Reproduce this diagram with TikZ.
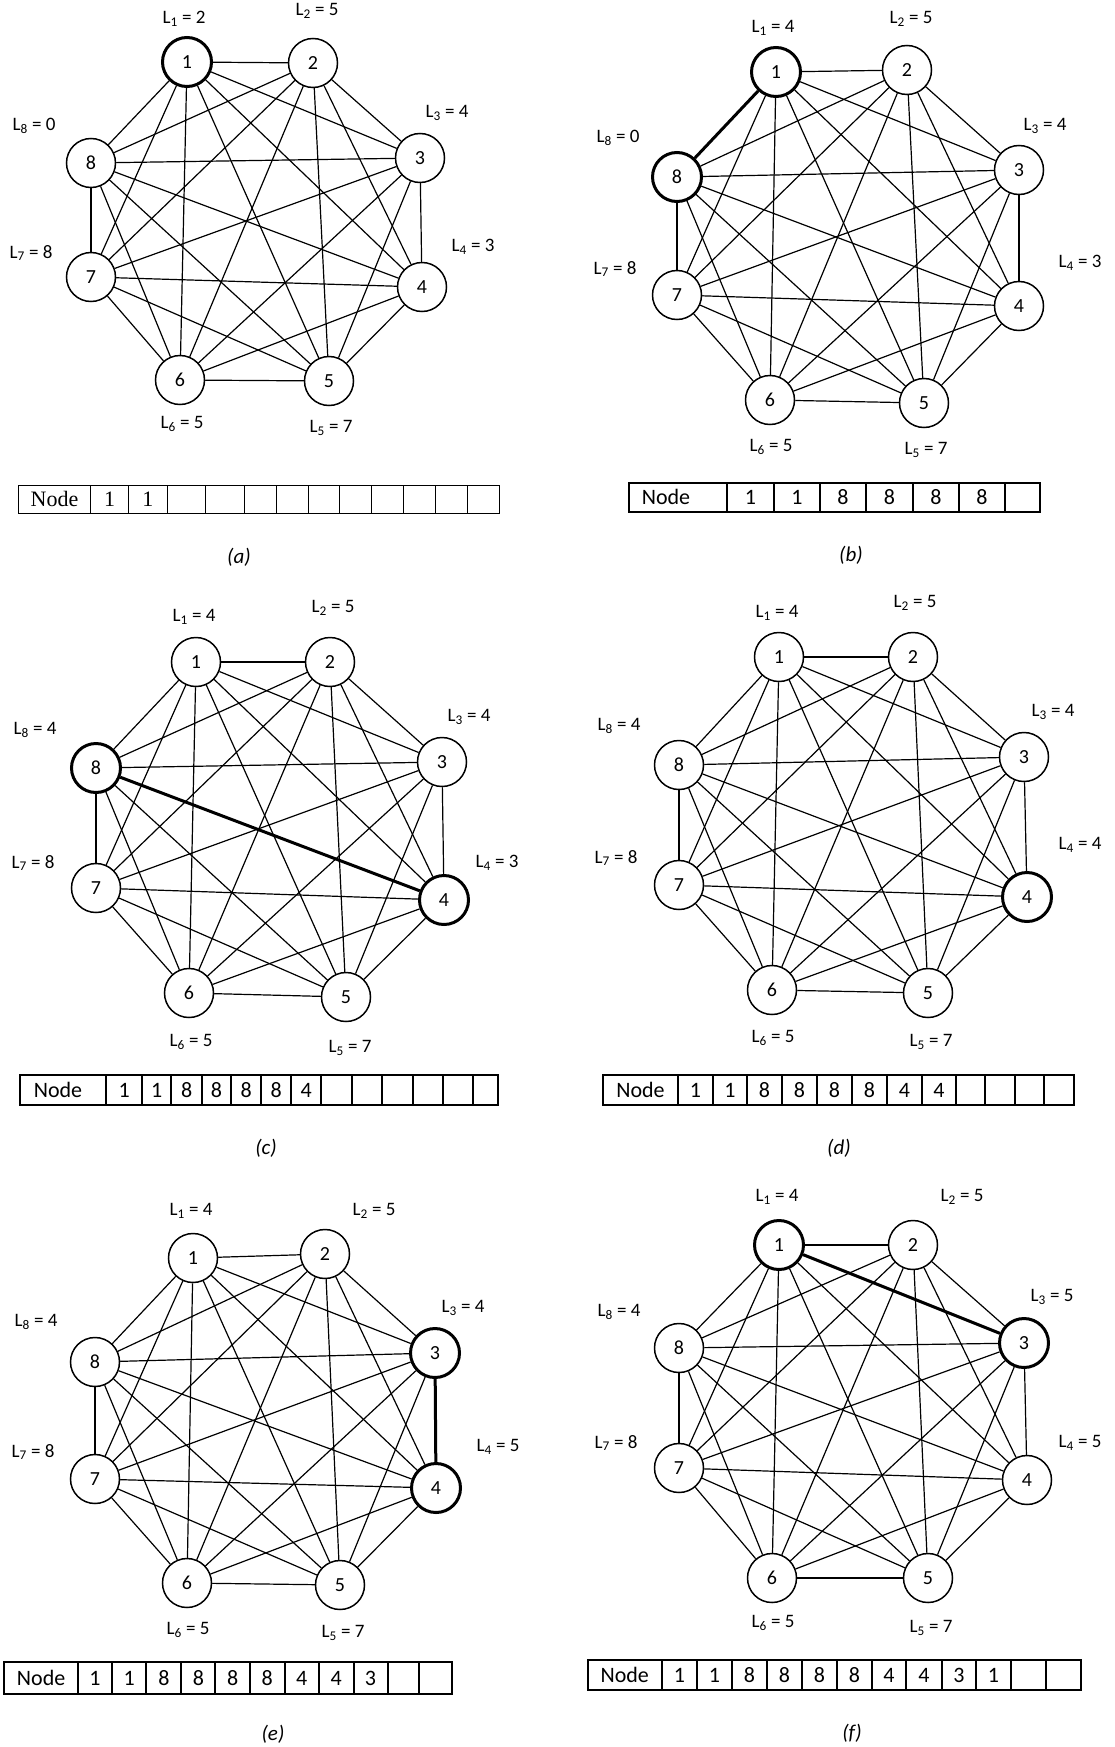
\documentclass[tikz,border=0pt]{standalone}
\usepackage{fontspec}
\setmainfont{Carlito}
\newfontfamily\timesf{Liberation Serif}
\tikzset{
  vtx/.style={circle, draw, line width=1.5pt, minimum size=49pt, inner sep=0pt, font=\fontsize{20}{20}\selectfont},
  hot/.style={line width=3pt},
  edge/.style={line width=1.2pt},
  hotedge/.style={line width=3pt},
  lab/.style={font=\fontsize{19}{19}\selectfont, inner sep=0pt},
  captext/.style={font=\fontsize{21}{21}\selectfont\itshape, inner sep=0pt},
  cell/.style={font=\fontsize{22}{22}\selectfont, inner sep=0pt},
  cellT/.style={font=\fontsize{22}{22}\selectfont\timesf, inner sep=0pt},
  tabthin/.style={line width=1pt},
  tabbold/.style={line width=2.5pt},
  tabmid/.style={line width=2pt},
}
\newcommand\completegraph[1]{%
  \foreach \i in {1,...,7}{%
    \pgfmathtruncatemacro\jfirst{\i+1}%
    \foreach \j in {\jfirst,...,8}{\draw[edge] (#1\i) -- (#1\j);}%
  }%
}
\begin{document}
\begin{tikzpicture}[x=1pt,y=-1pt]
\useasboundingbox (0,0) rectangle (1114,1747);

% ---------------- (a)
\node[vtx,hot] (a1) at (187,62) {1};
\node[vtx] (a2) at (313,63) {2};
\node[vtx] (a3) at (420,158) {3};
\node[vtx] (a4) at (422,287) {4};
\node[vtx] (a5) at (329,381) {5};
\node[vtx] (a6) at (180,380) {6};
\node[vtx] (a7) at (91,277) {7};
\node[vtx] (a8) at (91,163) {8};
\completegraph{a}
\node[lab] (la1) at (184,19) {L\textsubscript{1} = 2};
\node[lab] (la2) at (317,11) {L\textsubscript{2} = 5};
\node[lab] (la3) at (447,113) {L\textsubscript{3} = 4};
\node[lab] (la4) at (473,247) {L\textsubscript{4} = 3};
\node[lab] (la5) at (331,428) {L\textsubscript{5} = 7};
\node[lab] (la6) at (182,424) {L\textsubscript{6} = 5};
\node[lab] (la7) at (31,253) {L\textsubscript{7} = 8};
\node[lab] (la8) at (34,126) {L\textsubscript{8} = 0};
\foreach \xa/\xb/\t [count=\k] in {18.6/90.4/Node, 90.4/128.6/1, 128.6/167.1/1, 167.1/205.7/{}, 205.7/244.6/{}, 244.6/276.4/{}, 276.4/308.2/{}, 308.2/339.6/{}, 339.6/371.4/{}, 371.4/403.6/{}, 403.6/435.7/{}, 435.7/467.1/{}, 467.1/499.3/{}}{
  \draw[tabthin] (\xa,485) rectangle (\xb,513);
  \node[cellT] (ta\k) at ({(\xa+\xb)/2},499) {\t};
}
\node[captext] (capa) at (239,557) {(a)};

% ---------------- (b)
\node[vtx,hot] (b1) at (776,72) {1};
\node[vtx] (b2) at (907,70) {2};
\node[vtx] (b3) at (1019,170) {3};
\node[vtx] (b4) at (1019,306) {4};
\node[vtx] (b5) at (924,403) {5};
\node[vtx] (b6) at (770,400) {6};
\node[vtx] (b7) at (677,295) {7};
\node[vtx,hot] (b8) at (677,177) {8};
\completegraph{b}
\draw[hotedge] (b1) -- (b8);
\node[lab] (lb1) at (773,28) {L\textsubscript{1} = 4};
\node[lab] (lb2) at (911,19) {L\textsubscript{2} = 5};
\node[lab] (lb3) at (1045,126) {L\textsubscript{3} = 4};
\node[lab] (lb4) at (1080,263) {L\textsubscript{4} = 3};
\node[lab] (lb5) at (926,450) {L\textsubscript{5} = 7};
\node[lab] (lb6) at (771,447) {L\textsubscript{6} = 5};
\node[lab] (lb7) at (615,269) {L\textsubscript{7} = 8};
\node[lab] (lb8) at (618,138) {L\textsubscript{8} = 0};
\draw[tabbold] (629,483) rectangle (727,512);
\node[cell] (tb1) at (666,497) {Node};
\foreach \xa/\xb/\t [count=\k from 2] in {727/774/1, 774/820/1, 820/866/8, 866/913/8, 913/959/8, 959/1005/8, 1005/1040/{}}{
  \draw[tabbold] (\xa,483) rectangle (\xb,512);
  \node[cell] (tb\k) at ({(\xa+\xb)/2},497) {\t};
}
\node[captext] (capb) at (851,555) {(b)};

% ---------------- (c)
\node[vtx] (c1) at (196,662) {1};
\node[vtx] (c2) at (330,662) {2};
\node[vtx] (c3) at (442,762) {3};
\node[vtx,hot] (c4) at (444,900) {4};
\node[vtx] (c5) at (346,997) {5};
\node[vtx] (c6) at (189,993) {6};
\node[vtx] (c7) at (96,888) {7};
\node[vtx,hot] (c8) at (96,768) {8};
\completegraph{c}
\draw[hotedge] (c8) -- (c4);
\node[lab] (lc1) at (194,617) {L\textsubscript{1} = 4};
\node[lab] (lc2) at (333,608) {L\textsubscript{2} = 5};
\node[lab] (lc3) at (469,717) {L\textsubscript{3} = 4};
\node[lab] (lc4) at (497,863) {L\textsubscript{4} = 3};
\node[lab] (lc5) at (350,1048) {L\textsubscript{5} = 7};
\node[lab] (lc6) at (191,1042) {L\textsubscript{6} = 5};
\node[lab] (lc7) at (33,863) {L\textsubscript{7} = 8};
\node[lab] (lc8) at (35,730) {L\textsubscript{8} = 4};
\draw[tabmid] (19.6,1075) rectangle (106.4,1105);
\node[cell] (tc1) at (58,1090) {Node};
\foreach \xa/\xb/\t [count=\k from 2] in {106.4/141.8/1, 141.8/171.4/1, 171.4/201.8/8, 201.8/231.1/8, 231.1/261.4/8, 261.4/291.1/8, 291.1/321.4/4, 321.4/351.8/{}, 351.8/382.1/{}, 382.1/412.5/{}, 412.5/442.9/{}, 442.9/473.2/{}, 473.2/498.2/{}}{
  \draw[tabmid] (\xa,1075) rectangle (\xb,1105);
  \node[cell] (tc\k) at ({(\xa+\xb)/2},1090) {\t};
}
\node[captext] (capc) at (266,1148) {(c)};

% ---------------- (d)
\node[vtx] (d1) at (779,657) {1};
\node[vtx] (d2) at (913,657) {2};
\node[vtx] (d3) at (1024,757) {3};
\node[vtx,hot] (d4) at (1027,897) {4};
\node[vtx] (d5) at (928,993) {5};
\node[vtx] (d6) at (772,990) {6};
\node[vtx] (d7) at (679,885) {7};
\node[vtx] (d8) at (679,765) {8};
\completegraph{d}
\node[lab] (ld1) at (777,613) {L\textsubscript{1} = 4};
\node[lab] (ld2) at (915,603) {L\textsubscript{2} = 5};
\node[lab] (ld3) at (1053,712) {L\textsubscript{3} = 4};
\node[lab] (ld4) at (1080,845) {L\textsubscript{4} = 4};
\node[lab] (ld5) at (931,1042) {L\textsubscript{5} = 7};
\node[lab] (ld6) at (773,1038) {L\textsubscript{6} = 5};
\node[lab] (ld7) at (616,858) {L\textsubscript{7} = 8};
\node[lab] (ld8) at (619,726) {L\textsubscript{8} = 4};
\foreach \xa/\xb/\t [count=\k] in {603/678/Node, 678/713/1, 713/747/1, 747/782/8, 782/817/8, 817/852/8, 852/887/8, 887/922/4, 922/956/4, 956/985/{}, 985/1015/{}, 1015/1044/{}, 1044/1074/{}}{
  \draw[tabmid] (\xa,1075) rectangle (\xb,1105);
  \node[cell] (td\k) at ({(\xa+\xb)/2},1090) {\t};
}
\node[captext] (capd) at (839,1148) {(d)};

% ---------------- (e)
\node[vtx] (e1) at (193,1258) {1};
\node[vtx] (e2) at (325,1254) {2};
\node[vtx,hot] (e3) at (435,1353) {3};
\node[vtx,hot] (e4) at (436,1488) {4};
\node[vtx] (e5) at (340,1585) {5};
\node[vtx] (e6) at (187,1583) {6};
\node[vtx] (e7) at (95,1479) {7};
\node[vtx] (e8) at (95,1362) {8};
\completegraph{e}
\draw[hotedge] (e3) -- (e4);
\node[lab] (le1) at (191,1211) {L\textsubscript{1} = 4};
\node[lab] (le2) at (374,1211) {L\textsubscript{2} = 5};
\node[lab] (le3) at (463,1308) {L\textsubscript{3} = 4};
\node[lab] (le4) at (498,1447) {L\textsubscript{4} = 5};
\node[lab] (le5) at (343,1633) {L\textsubscript{5} = 7};
\node[lab] (le6) at (188,1630) {L\textsubscript{6} = 5};
\node[lab] (le7) at (33,1452) {L\textsubscript{7} = 8};
\node[lab] (le8) at (36,1322) {L\textsubscript{8} = 4};
\foreach \xa/\xb/\t [count=\k] in {4.3/77.9/Node, 77.9/111.8/1, 111.8/146.4/1, 146.4/181.4/8, 181.4/215.4/8, 215.4/250/8, 250/284.6/8, 284.6/318.9/4, 318.9/353.6/4, 353.6/387.5/3, 387.5/418.9/{}, 418.9/451.8/{}}{
  \draw[tabmid] (\xa,1662) rectangle (\xb,1694);
  \node[cell] (te\k) at ({(\xa+\xb)/2},1678) {\t};
}
\node[captext] (cape) at (273,1734) {(e)};

% ---------------- (f)
\node[vtx,hot] (f1) at (779,1245) {1};
\node[vtx] (f2) at (913,1245) {2};
\node[vtx,hot] (f3) at (1024,1343) {3};
\node[vtx] (f4) at (1027,1480) {4};
\node[vtx] (f5) at (928,1578) {5};
\node[vtx] (f6) at (772,1578) {6};
\node[vtx] (f7) at (679,1468) {7};
\node[vtx] (f8) at (679,1348) {8};
\completegraph{f}
\draw[hotedge] (f1) -- (f3);
\node[lab] (lf1) at (777,1197) {L\textsubscript{1} = 4};
\node[lab] (lf2) at (962,1197) {L\textsubscript{2} = 5};
\node[lab] (lf3) at (1052,1297) {L\textsubscript{3} = 5};
\node[lab] (lf4) at (1080,1443) {L\textsubscript{4} = 5};
\node[lab] (lf5) at (931,1628) {L\textsubscript{5} = 7};
\node[lab] (lf6) at (773,1623) {L\textsubscript{6} = 5};
\node[lab] (lf7) at (616,1443) {L\textsubscript{7} = 8};
\node[lab] (lf8) at (619,1312) {L\textsubscript{8} = 4};
\foreach \xa/\xb/\t [count=\k] in {587.5/662/Node, 662/697/1, 697/732/1, 732/767/8, 767/802/8, 802/837/8, 837/872/8, 872/906/4, 906/942/4, 942/976/3, 976/1011/1, 1011/1046/{}, 1046/1081/{}}{
  \draw[tabmid] (\xa,1660) rectangle (\xb,1690);
  \node[cell] (tf\k) at ({(\xa+\xb)/2},1675) {\t};
}
\node[captext] (capf) at (852,1733) {(f)};
\end{tikzpicture}
\end{document}
